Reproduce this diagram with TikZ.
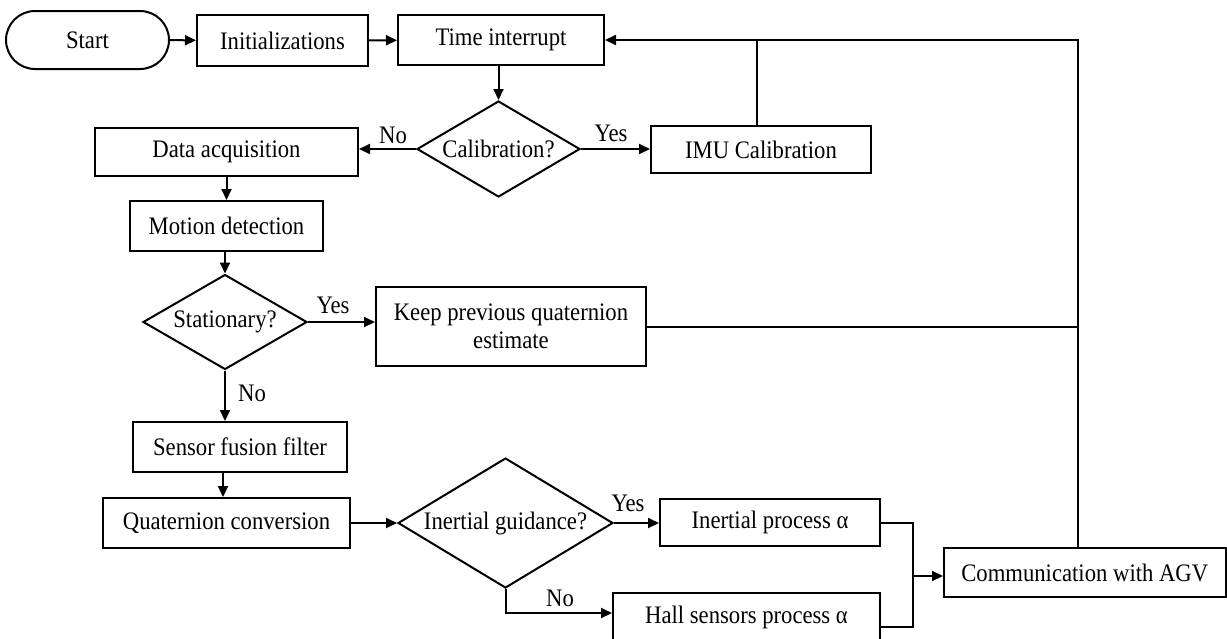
\documentclass[tikz,border=0pt]{standalone}
\usepackage{fontspec}
\setmainfont{Liberation Serif}[FakeStretch=0.9]
\usetikzlibrary{shapes.geometric,arrows.meta}
\begin{document}
\begin{tikzpicture}[x=0.5pt,y=-0.5pt,
  every node/.style={font=\fontsize{12.6}{14}\selectfont, inner sep=0pt},
  proc/.style={draw, line width=1pt, rectangle, align=center},
  term/.style={draw, line width=1pt, rectangle, rounded corners=14.5pt},
  decide/.style={draw, line width=1pt, diamond, aspect=1.7},
  flow/.style={line width=1pt, -{Triangle[length=5.5pt,width=5pt]}},
  link/.style={line width=1pt}
]
\useasboundingbox (0,0) rectangle (1227,638);

% process blocks
\node[term, minimum width=81.5pt, minimum height=29pt] (start) at (87.5,40) {Start};
\node[proc, minimum width=85.5pt, minimum height=25.5pt] (init) at (282.5,40.5) {Initializations};
\node[proc, minimum width=103pt, minimum height=25pt] (time) at (501,40) {Time interrupt};
\node[decide, minimum width=81.5pt, minimum height=48pt] (calib) at (498.5,149) {Calibration?};
\node[proc, minimum width=131.5pt, minimum height=24pt] (data) at (226.5,152) {Data acquisition};
\node[proc, minimum width=110pt, minimum height=23.5pt] (imu) at (761,149.5) {IMU Calibration};
\node[proc, minimum width=96.5pt, minimum height=25pt] (motion) at (226.5,226) {Motion detection};
\node[decide, minimum width=82pt, minimum height=47.5pt] (stat) at (225,322) {Stationary?};
\node[proc, minimum width=135pt, minimum height=39.5pt] (keep) at (511,326.5) {Keep previous quaternion\\estimate};
\node[proc, minimum width=107pt, minimum height=25pt] (sensor) at (240,447) {Sensor fusion filter};
\node[proc, minimum width=123.5pt, minimum height=25pt] (quat) at (226.5,523) {Quaternion conversion};
\node[decide, aspect=1.65, minimum width=107.5pt, minimum height=65pt] (guide) at (505.5,523) {Inertial guidance?};
\node[proc, minimum width=110pt, minimum height=23.5pt] (inert) at (770,522.5) {Inertial process α};
\node[proc, minimum width=133.5pt, minimum height=24pt] (hall) at (746.5,617) {Hall sensors process α};
\node[proc, minimum width=140.75pt, minimum height=24.5pt] (comm) at (1084.75,572.5) {Communication with AGV};

% junction points of the return paths
\coordinate (fb) at (1078,40);
\coordinate (imutop) at (757,40);
\coordinate (merge) at (913,576);

% main flow
\draw[flow] (start) -- (init);
\draw[flow] (init) -- (time);
\draw[flow] (calib.north |- time.south) -- (calib.north);
\draw[flow] (calib.west) -- (calib.west -| data.east);
\draw[flow] (calib.east) -- (calib.east -| imu.west);
\draw[flow] (data.south) -- (motion.north);
\draw[flow] (stat.north |- motion.south) -- (stat.north);
\draw[flow] (stat.east) -- (stat.east -| keep.west);
\draw[flow] (stat.south) -- (stat.south |- sensor.north);
\draw[flow] (sensor.south -| 223,0) -- (quat.north -| 223,0);
\draw[flow] (quat.east) -- (guide.west);
\draw[flow] (guide.east) -- (guide.east -| inert.west);
\draw[flow] (guide.south) |- ([yshift=2pt]hall.west);

% merge into the communication block
\draw[link] (inert.east) -| (merge);
\draw[link] ([yshift=-5pt]hall.east) -| (merge);
\draw[flow] (merge) -- (merge -| comm.west);

% return paths to the time interrupt
\draw[link] (imu.north -| imutop) -- (imutop);
\draw[link] (keep.east) -- (keep.east -| fb);
\draw[flow] (comm.north -| fb) -- (fb) -- (time.east);

% branch labels
\node (l1) at (393,135) {No};
\node (l2) at (611,133) {Yes};
\node (l3) at (333,305) {Yes};
\node (l4) at (252,393) {No};
\node (l5) at (628,503) {Yes};
\node (l6) at (560,598) {No};
\end{tikzpicture}
\end{document}
